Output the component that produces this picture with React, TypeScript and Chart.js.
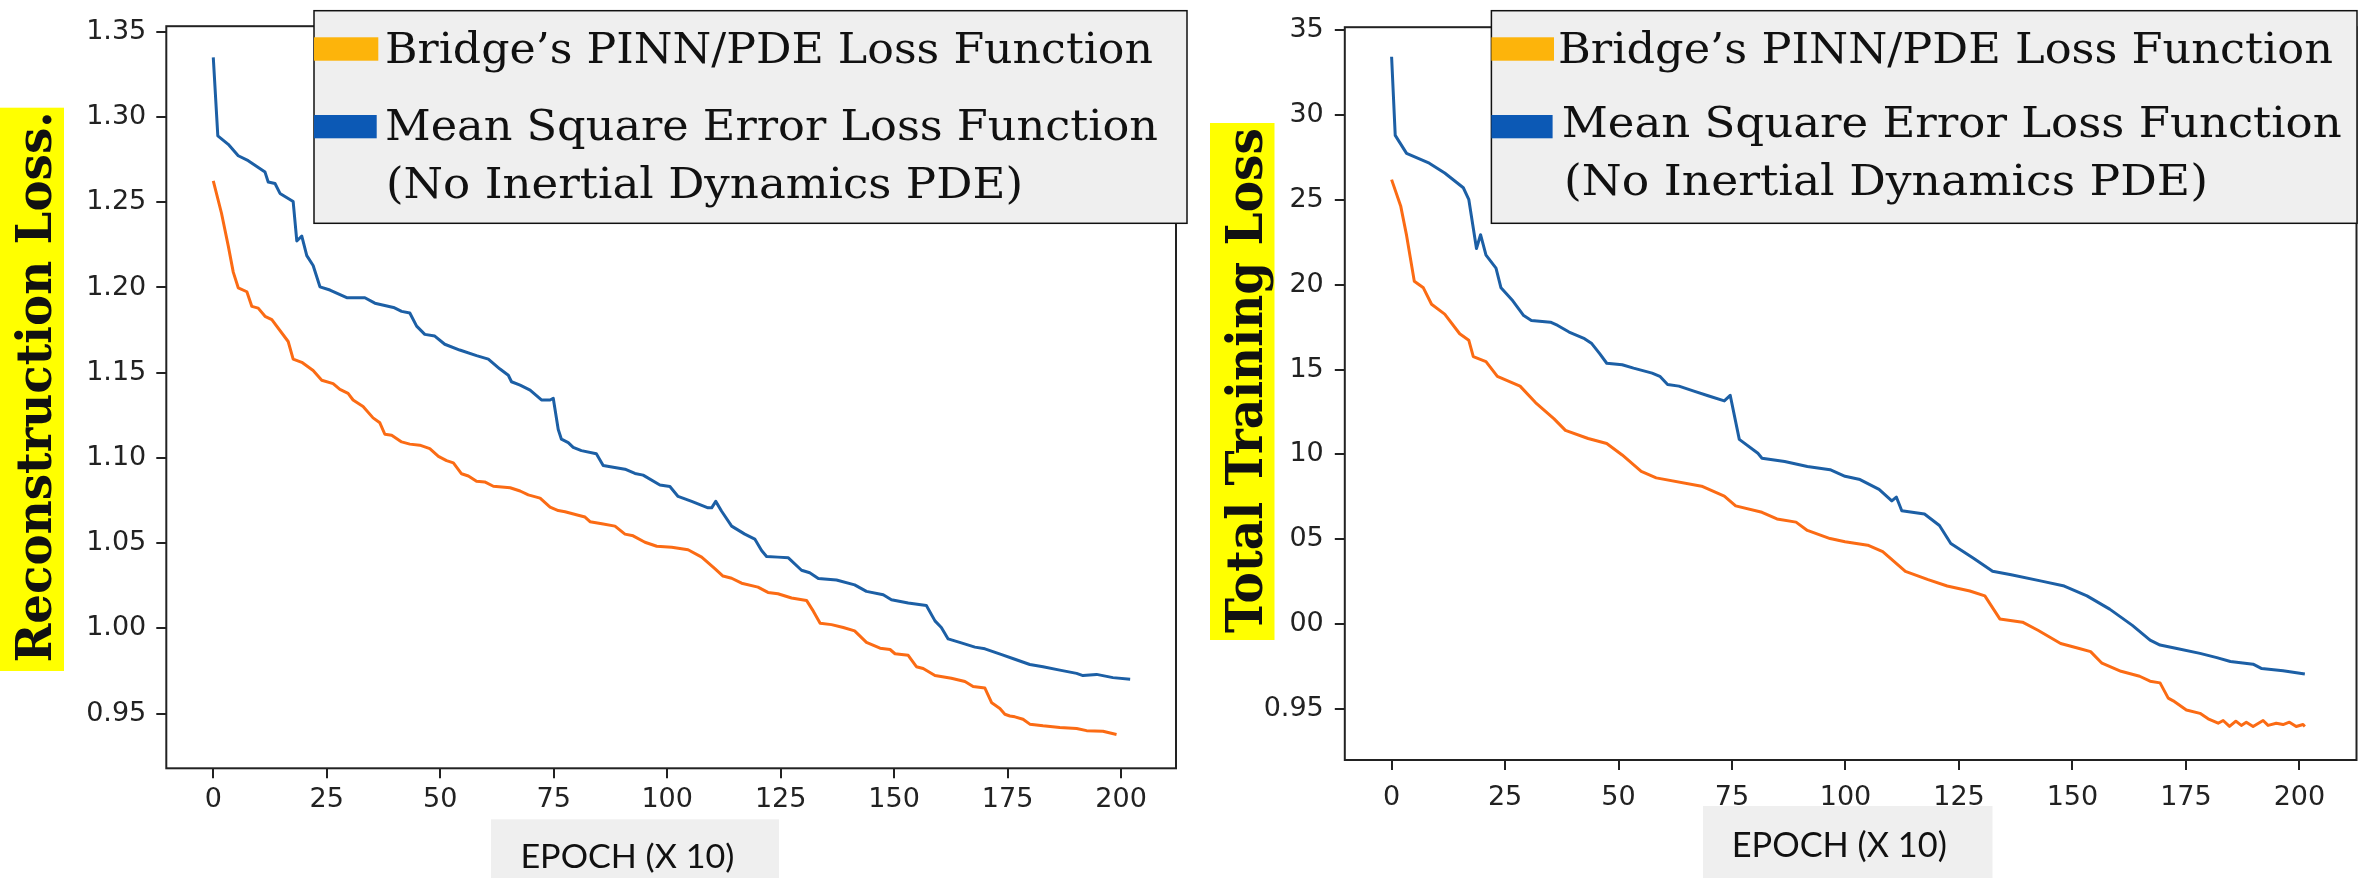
import React, { useEffect, useRef } from "react";
import { Chart, registerables } from "chart.js";

Chart.register(...registerables);

// ---------- shared axis data ----------
const xTickValues = [0, 25, 50, 75, 100, 125, 150, 175, 200];
const yTickValues = [0.95, 1.0, 1.05, 1.1, 1.15, 1.2, 1.25, 1.3, 1.35];
const leftYTickLabels = ["0.95", "1.00", "1.05", "1.10", "1.15", "1.20", "1.25", "1.30", "1.35"];
const rightYTickLabels = ["0.95", "00", "05", "10", "15", "20", "25", "30", "35"];

const legendPinn = "Bridge\u2019s PINN/PDE Loss Function";
const legendMse1 = "Mean Square Error Loss Function";
const legendMse2 = "(No Inertial Dynamics PDE)";
const leftYTitle = "Reconstruction Loss.";
const rightYTitle = "Total Training Loss";
const xTitle = "EPOCH (X 10)";

// ---------- left chart (Reconstruction Loss) ----------
const leftMseEpochs = [
  0, 1, 3.3, 5.5, 7.7, 11.4, 12.1, 13.6, 14.7, 17.6, 18.4, 19.5, 20.6, 22, 23.5, 25.7, 29.4, 33.4,
  35.6, 39.7, 41.5, 43.3, 44.8, 46.6, 48.8, 51, 54.3, 58, 60.6, 63.1, 65, 65.7, 67.6, 69.8, 72.3,
  74.2, 74.9, 76, 76.7, 78.2, 79.3, 81.1, 84.4, 85.9, 87.8, 90.7, 92.9, 94.7, 98.4, 100.6, 102.4,
  105.4, 109, 109.8, 110.7, 112, 114.2, 117.1, 119.3, 120.8, 121.9, 124.4, 126.7, 129.6, 131.4,
  133.3, 137.3, 141.3, 143.9, 147.6, 149.4, 153.1, 157.1, 159, 160.4, 161.9, 164.8, 167.8, 170,
  173.7, 176.6, 179.9, 182.8, 186.5, 190.2, 191.6, 194.6, 198.2, 202,
];
const leftMseLoss = [
  1.335, 1.289, 1.284, 1.2773, 1.2744, 1.2677, 1.2619, 1.261, 1.2552, 1.2504, 1.2273, 1.2302, 1.2187,
  1.2129, 1.2004, 1.1985, 1.194, 1.194, 1.1908, 1.1883, 1.186, 1.185, 1.1773, 1.1725, 1.1715, 1.1667,
  1.1633, 1.16, 1.158, 1.1523, 1.1485, 1.1447, 1.1427, 1.1398, 1.134, 1.134, 1.135, 1.1167, 1.111,
  1.109, 1.1062, 1.1043, 1.1024, 1.0956, 1.0947, 1.0934, 1.0909, 1.0899, 1.0841, 1.0832, 1.0774,
  1.0745, 1.0707, 1.0707, 1.0745, 1.0687, 1.06, 1.0553, 1.0524, 1.0457, 1.0422, 1.0418, 1.0414,
  1.0341, 1.0326, 1.0293, 1.0284, 1.0255, 1.0217, 1.0197, 1.0168, 1.0149, 1.0134, 1.0044, 1.0005,
  0.9938, 0.9915, 0.989, 0.988, 0.9846, 0.9819, 0.9788, 0.9775, 0.9755, 0.9736, 0.9723, 0.973,
  0.9711, 0.9701,
];
const leftPinnEpochs = [
  0, 1.8, 3.3, 4.4, 5.5, 7.4, 8.5, 9.9, 11.4, 12.9, 16.5, 17.6, 19.5, 22, 23.9, 26.4, 27.9, 29.7,
  30.8, 33, 35.2, 36.7, 37.8, 39.3, 41.5, 43.3, 45.5, 47.7, 49.6, 51.4, 52.9, 54.7, 56.2, 58, 59.8,
  61.7, 65.4, 67.6, 69.4, 72, 74.2, 76, 77.5, 80.4, 81.9, 83, 85.6, 88.5, 90.7, 92.5, 95.1, 97.7,
  101, 104.6, 107.6, 110.5, 112.3, 114.2, 116.4, 120, 122.2, 124.4, 127.4, 130.7, 132.2, 133.7,
  136.2, 138.8, 141.3, 143.9, 146.9, 149.1, 150.2, 153.1, 154.9, 156.4, 159, 162.6, 165.6, 167.4,
  170, 171.5, 173.3, 174.4, 175.5, 176.6, 178.4, 179.9, 182.8, 186.5, 190.2, 192.4, 196, 199,
];
const leftPinnLoss = [
  1.2625, 1.2437, 1.2244, 1.209, 1.1998, 1.1975, 1.1889, 1.1879, 1.1831, 1.1811, 1.1683, 1.158,
  1.1561, 1.1513, 1.1456, 1.1436, 1.1402, 1.1379, 1.134, 1.1302, 1.1235, 1.1206, 1.1139, 1.1133,
  1.1094, 1.1081, 1.1075, 1.1055, 1.1009, 1.0984, 1.0971, 1.0907, 1.0894, 1.0863, 1.0859, 1.0834,
  1.0825, 1.0806, 1.0783, 1.0764, 1.0711, 1.0691, 1.0684, 1.0664, 1.0653, 1.0626, 1.0614, 1.06,
  1.0553, 1.0543, 1.0505, 1.0482, 1.0476, 1.0461, 1.0418, 1.0351, 1.0307, 1.0294, 1.0265, 1.0242,
  1.0211, 1.0203, 1.0178, 1.0164, 1.0101, 1.003, 1.0022, 1.0005, 0.9985, 0.9918, 0.9884, 0.9876,
  0.9851, 0.9842, 0.9775, 0.9765, 0.9723, 0.9707, 0.9688, 0.9659, 0.965, 0.9563, 0.953, 0.9496,
  0.9486, 0.9481, 0.9467, 0.9438, 0.9428, 0.9418, 0.9413, 0.94, 0.9396, 0.9377,
];

// ---------- right chart (Total Training Loss) ----------
const rightMseEpochs = [
  0, 0.8, 3.3, 8.3, 11.7, 15.8, 17, 18.7, 19.6, 20.8, 23, 24.1, 26.7, 29.1, 30.8, 35, 36.6, 39.1,
  42.5, 44.1, 45.8, 47.4, 50.8, 53.3, 57.4, 59.1, 60.8, 63.3, 66.6, 69.9, 73.3, 74.6, 76.6, 80.7,
  81.6, 86.6, 91.6, 96.6, 99.9, 103.2, 107.4, 110.2, 111.2, 112.4, 117.4, 120.7, 123.2, 128.2,
  132.4, 136.5, 143.2, 148.2, 153.2, 158.2, 163.2, 167.1, 169.3, 173, 178.1, 181.8, 184.8, 189.8,
  191.7, 196.4, 201.2,
];
const rightMseLoss = [
  1.3345, 1.2881, 1.2775, 1.2717, 1.2659, 1.2572, 1.2504, 1.2214, 1.2295, 1.2175, 1.2098, 1.1982,
  1.1905, 1.1818, 1.1789, 1.1779, 1.176, 1.1721, 1.1682, 1.1653, 1.1595, 1.1537, 1.1528, 1.1508,
  1.1479, 1.146, 1.1412, 1.1402, 1.1373, 1.1344, 1.1315, 1.1348, 1.1088, 1.1006, 1.0977, 1.0957,
  1.0928, 1.0909, 1.087, 1.0851, 1.0793, 1.0725, 1.0748, 1.0667, 1.0648, 1.058, 1.0474, 1.0387,
  1.031, 1.029, 1.0252, 1.0223, 1.0165, 1.0087, 0.9991, 0.9904, 0.9875, 0.9855, 0.9826, 0.9801,
  0.9778, 0.9762, 0.9736, 0.9724, 0.9704,
];
const rightPinnEpochs = [
  0, 2, 3.3, 5, 7, 8.8, 11.7, 15, 17, 18, 20.8, 23.3, 28.3, 31.7, 35.8, 38.3, 43.3, 47.4, 50.8, 55,
  58.3, 68.3, 73.3, 75.8, 81.6, 84.9, 89.1, 91.6, 96.6, 99.9, 104.9, 108.2, 113.2, 118.2, 122.4,
  127.4, 130.7, 134, 139, 142.4, 147.4, 151.5, 154, 156.5, 160.7, 164.8, 167.1, 169.3, 171.1, 172.2,
  175.1, 178.1, 179.9, 182.1, 183.2, 184.6, 186, 187.2, 188.3, 189.8, 192, 193.1, 194.9, 196.4,
  197.8, 199.3, 200.8, 201.2,
];
const rightPinnLoss = [
  1.262, 1.2465, 1.2291, 1.2021, 1.1982, 1.1885, 1.1827, 1.1711, 1.1673, 1.1576, 1.1547, 1.146,
  1.1402, 1.1305, 1.1209, 1.1141, 1.1093, 1.1064, 1.0996, 1.0899, 1.0861, 1.0812, 1.0754, 1.0696,
  1.0658, 1.0619, 1.06, 1.0551, 1.0503, 1.0484, 1.0464, 1.0426, 1.031, 1.0261, 1.0223, 1.0194,
  1.0165, 1.0029, 1.001, 0.9962, 0.9884, 0.9855, 0.9836, 0.9768, 0.972, 0.9691, 0.9662, 0.9652,
  0.9562, 0.9546, 0.9492, 0.9472, 0.944, 0.9414, 0.943, 0.9395, 0.9426, 0.9401, 0.942, 0.9395,
  0.943, 0.9401, 0.9414, 0.9406, 0.942, 0.9395, 0.9406, 0.9395,
];

// ---------- styles ----------
const BLUE = "#1c5fa5";
const ORANGE = "#fb6b14";
const SWATCH_ORANGE = "#fdb40b";
const SWATCH_BLUE = "#0c59b5";
const AXIS = "#222222";
const LEGEND_BG = "#efefef";
const YELLOW = "#ffff00";

const spinePlugin = {
  id: "spines",
  afterDraw(chart: any) {
    const { ctx, chartArea: a } = chart;
    ctx.save();
    ctx.strokeStyle = AXIS;
    ctx.lineWidth = 2;
    ctx.strokeRect(a.left, a.top, a.right - a.left, a.bottom - a.top);
    ctx.restore();
  },
};

function pairs(e: number[], v: number[]) {
  return e.map((x, i) => ({ x, y: v[i] }));
}

type Cfg = {
  pinnE: number[];
  pinnV: number[];
  mseE: number[];
  mseV: number[];
  yLabels: string[];
  xMin: number;
  xMax: number;
  yMin: number;
  yMax: number;
  axisW: number;
  padR: number;
  padT: number;
  padB: number;
  xPad: number;
  yPad: number;
};

function buildConfig(p: Cfg): any {
  const tickFont = { family: "'DejaVu Sans', sans-serif", size: 27 };
  const grid = {
    drawOnChartArea: false,
    drawTicks: true,
    tickLength: 10,
    color: AXIS,
    lineWidth: 2,
  };
  return {
    type: "line",
    data: {
      datasets: [
        {
          data: pairs(p.mseE, p.mseV),
          borderColor: BLUE,
          borderWidth: 3,
          pointRadius: 0,
          tension: 0,
          fill: false,
          borderJoinStyle: "round",
        },
        {
          data: pairs(p.pinnE, p.pinnV),
          borderColor: ORANGE,
          borderWidth: 3,
          pointRadius: 0,
          tension: 0,
          fill: false,
          borderJoinStyle: "round",
        },
      ],
    },
    options: {
      responsive: false,
      maintainAspectRatio: false,
      animation: false,
      events: [],
      layout: { padding: { left: 0, right: p.padR, top: p.padT, bottom: p.padB } },
      plugins: {
        legend: { display: false },
        tooltip: { enabled: false },
        title: { display: false },
      },
      scales: {
        x: {
          type: "linear",
          min: p.xMin,
          max: p.xMax,
          afterBuildTicks: (s: any) => {
            s.ticks = xTickValues.map((v) => ({ value: v }));
          },
          afterFit: (s: any) => {
            s.height = 60;
          },
          grid,
          border: { display: false },
          ticks: {
            font: tickFont,
            color: AXIS,
            padding: p.xPad,
            maxRotation: 0,
            autoSkip: false,
            callback: (v: any) => String(v),
          },
        },
        y: {
          type: "linear",
          min: p.yMin,
          max: p.yMax,
          afterBuildTicks: (s: any) => {
            s.ticks = yTickValues.map((v) => ({ value: v }));
          },
          afterFit: (s: any) => {
            s.width = p.axisW;
          },
          grid,
          border: { display: false },
          ticks: {
            font: tickFont,
            color: AXIS,
            padding: p.yPad,
            autoSkip: false,
            callback: (_v: any, i: number) => p.yLabels[i],
          },
        },
      },
    },
    plugins: [spinePlugin],
  };
}

function ChartCanvas({ left, width, cfg }: { left: number; width: number; cfg: Cfg }) {
  const ref = useRef<HTMLCanvasElement | null>(null);
  useEffect(() => {
    if (!ref.current) return;
    const chart = new Chart(ref.current, buildConfig(cfg));
    return () => chart.destroy();
  }, []);
  return (
    <canvas
      ref={ref}
      width={width}
      height={878}
      style={{ position: "absolute", left, top: 0, width, height: 878 }}
    />
  );
}

const leftCfg: Cfg = {
  pinnE: leftPinnEpochs,
  pinnV: leftPinnLoss,
  mseE: leftMseEpochs,
  mseV: leftMseLoss,
  yLabels: leftYTickLabels,
  xMin: -10.35,
  xMax: 212.1,
  yMin: 0.9179,
  yMax: 1.3533,
  axisW: 166.3,
  padR: 14,
  padT: 13.3,
  padB: 49.7,
  xPad: 5.5,
  yPad: 10,
};

const rightCfg: Cfg = {
  pinnE: rightPinnEpochs,
  pinnV: rightPinnLoss,
  mseE: rightMseEpochs,
  mseV: rightMseLoss,
  yLabels: rightYTickLabels,
  xMin: -10.31,
  xMax: 212.58,
  yMin: 0.9197,
  yMax: 1.3519,
  axisW: 154.8,
  padR: 2.5,
  padT: 15,
  padB: 58,
  xPad: 11.8,
  yPad: 11,
};

const serif = "'DejaVu Serif', serif";
const sans = "Lato, 'Open Sans', sans-serif";

function Legend({ x, w, text1X, text1W, text2X, text2W, text3X, text3W, b1, b2, b3, sw1, sw2 }: any) {
  return (
    <g>
      <rect x={x} y={10.7} width={w} height={212.6} fill={LEGEND_BG} stroke="#111" strokeWidth={1.5} />
      <rect x={x} y={37.3} width={sw1} height={23.4} fill={SWATCH_ORANGE} />
      <rect x={x} y={115} width={sw2} height={23.3} fill={SWATCH_BLUE} />
      <text x={text1X} y={b1} fontFamily={serif} fontSize={43} fill="#111" textLength={text1W} lengthAdjust="spacingAndGlyphs">
        {legendPinn}
      </text>
      <text x={text2X} y={b2} fontFamily={serif} fontSize={43} fill="#111" textLength={text2W} lengthAdjust="spacingAndGlyphs">
        {legendMse1}
      </text>
      <text x={text3X} y={b3} fontFamily={serif} fontSize={43} fill="#111" textLength={text3W} lengthAdjust="spacingAndGlyphs">
        {legendMse2}
      </text>
    </g>
  );
}

export default function App() {
  return (
    <div
      style={{
        position: "fixed",
        left: 0,
        top: 0,
        width: 2359,
        height: 878,
        background: "#ffffff",
        overflow: "hidden",
      }}
    >
      <ChartCanvas left={0} width={1190} cfg={leftCfg} />
      <ChartCanvas left={1190} width={1169} cfg={rightCfg} />
      <svg
        width={2359}
        height={878}
        style={{ position: "absolute", left: 0, top: 0, pointerEvents: "none" }}
      >
        {/* left y title */}
        <rect x={0} y={107.7} width={64} height={563.3} fill={YELLOW} />
        <text
          transform="translate(51, 387) rotate(-90)"
          textAnchor="middle"
          fontFamily={serif}
          fontWeight="bold"
          fontSize={49}
          fill="#111"
          textLength={551}
          lengthAdjust="spacingAndGlyphs"
        >
          {leftYTitle}
        </text>
        {/* right y title */}
        <rect x={1210} y={123} width={64.5} height={517} fill={YELLOW} />
        <text
          transform="translate(1261.6, 380.5) rotate(-90)"
          textAnchor="middle"
          fontFamily={serif}
          fontWeight="bold"
          fontSize={50}
          fill="#111"
          textLength={505}
          lengthAdjust="spacingAndGlyphs"
        >
          {rightYTitle}
        </text>
        {/* x titles */}
        <rect x={491} y={819.3} width={288} height={60} fill={LEGEND_BG} />
        <text x={520.4} y={868.3} fontFamily={sans} fontSize={32} fill="#111" textLength={214} lengthAdjust="spacingAndGlyphs">
          {xTitle}
        </text>
        <rect x={1703} y={806} width={289.5} height={72} fill={LEGEND_BG} />
        <text x={1731.8} y={856.7} fontFamily={sans} fontSize={34} fill="#111" textLength={215} lengthAdjust="spacingAndGlyphs">
          {xTitle}
        </text>
        {/* legends */}
        <Legend
          x={314}
          w={873}
          sw1={64.3}
          sw2={62.7}
          text1X={385}
          text1W={768}
          text2X={385}
          text2W={773}
          text3X={386}
          text3W={637}
          b1={63.3}
          b2={140}
          b3={198.3}
        />
        <Legend
          x={1491.4}
          w={865.6}
          sw1={62.6}
          sw2={61.2}
          text1X={1558}
          text1W={775}
          text2X={1561.7}
          text2W={780}
          text3X={1564}
          text3W={644}
          b1={63.3}
          b2={136.7}
          b3={195}
        />
      </svg>
    </div>
  );
}
